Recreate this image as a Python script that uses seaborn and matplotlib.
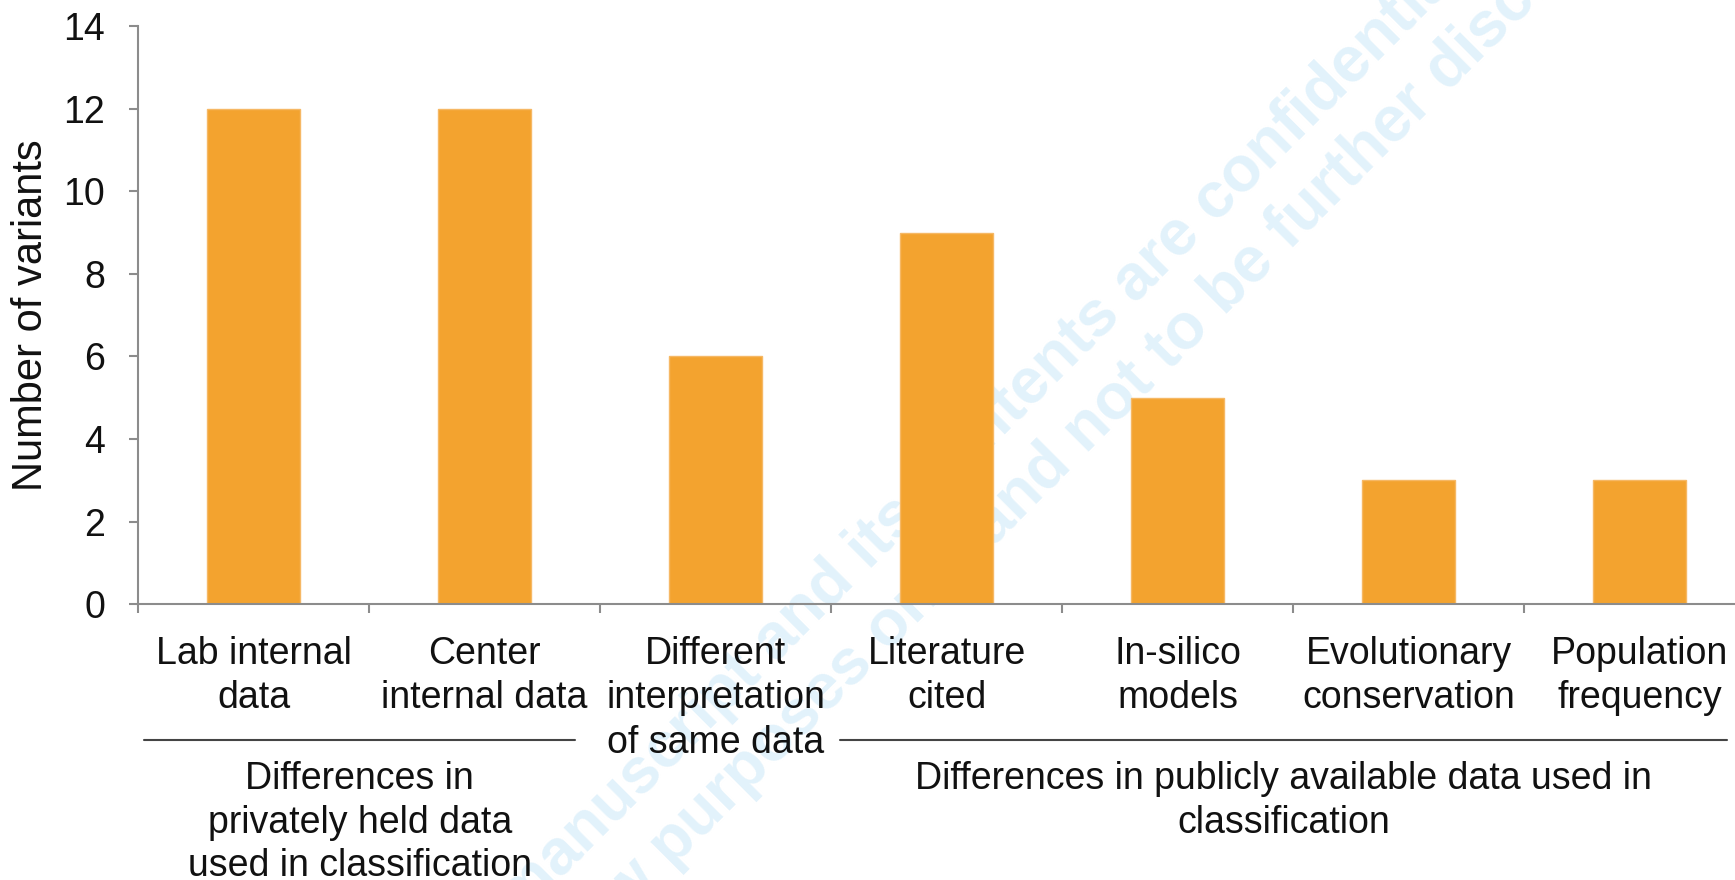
import matplotlib
matplotlib.use("Agg")
import matplotlib.pyplot as plt
import matplotlib.transforms as mtransforms
import seaborn as sns
import pandas as pd

sns.set_style("white")
plt.rcParams['font.family'] = ['Liberation Sans', 'DejaVu Sans']

# data
categories = ["Lab internal\ndata", "Center\ninternal data", "Different\ninterpretation\nof same data",
              "Literature\ncited", "In-silico\nmodels", "Evolutionary\nconservation", "Population\nfrequency"]
variants = [12, 12, 6, 9, 5, 3, 3]
group_labels = ["Differences in\nprivately held data\nused in classification",
                "Differences in publicly available data used in\nclassification"]

df = pd.DataFrame({'category': categories, 'variants': variants})

W, H = 1735, 880
fig = plt.figure(figsize=(W / 100, H / 100), dpi=100)
# axes spans 7 slots of 231 px starting at x=138, runs past right edge like the original
ax = fig.add_axes([138 / W, (H - 604) / H, 1617 / W, (604 - 26.5) / H])
ax.set_facecolor('none')

sns.barplot(x='category', y='variants', data=df, color='#F3A32F', saturation=1,
            width=0.4, edgecolor='#F6B865', linewidth=1, ax=ax)

ax.set_xlim(-0.5, 6.5)
ax.set_ylim(0, 14)
ax.set_yticks(range(0, 15, 2))
ax.set_xticks(range(len(categories)))
ax.set_xticklabels(categories, linespacing=1.3)
ax.set_xticks([i - 0.5 for i in range(len(categories) + 1)], minor=True)

sns.despine(ax=ax)
for s in ['left', 'bottom']:
    ax.spines[s].set_color('#8c8c8c')
    ax.spines[s].set_linewidth(1.5)

ax.tick_params(axis='x', which='major', length=0, pad=23, labelsize=27, labelcolor='#111111')
ax.tick_params(axis='x', which='minor', length=6.5, width=1.5, color='#8c8c8c', direction='out', bottom=True)
ax.tick_params(axis='y', length=6.5, width=1.5, color='#8c8c8c', direction='out', left=True,
               pad=17, labelsize=27, labelcolor='#111111')

ax.set_xlabel('')
ax.set_ylabel('Number of variants', fontsize=30, color='#111111')
ax.yaxis.set_label_coords(-0.054, 0.5)

# group brackets under the category labels
trans = mtransforms.blended_transform_factory(ax.transData, fig.transFigure)
line_y = (H - 740) / H
ax.plot([-0.474, 1.39], [line_y, line_y], transform=trans, color='#444444', lw=1.5, clip_on=False)
ax.plot([2.54, 6.38], [line_y, line_y], transform=trans, color='#444444', lw=1.5, clip_on=False)
ax.text(0.46, (H - 761) / H, group_labels[0], transform=trans, ha='center', va='top',
        fontsize=27, color='#111111', linespacing=1.27)
ax.text(4.46, (H - 761) / H, group_labels[1], transform=trans, ha='center', va='top',
        fontsize=27, color='#111111', linespacing=1.27)

# faint watermark behind the bars
wm = dict(rotation=45, rotation_mode='anchor', ha='left', va='baseline', fontsize=46,
          fontweight='bold', color='#e2f2fb', zorder=-1)
fig.text(520 / W, 1 - 920 / H, "manuscript and its contents are confidential", **wm)
fig.text(519 / W, 1 - 1022 / H, "review purposes only and not to be further disclosed", **wm)

fig.savefig('out.png', dpi=100)
